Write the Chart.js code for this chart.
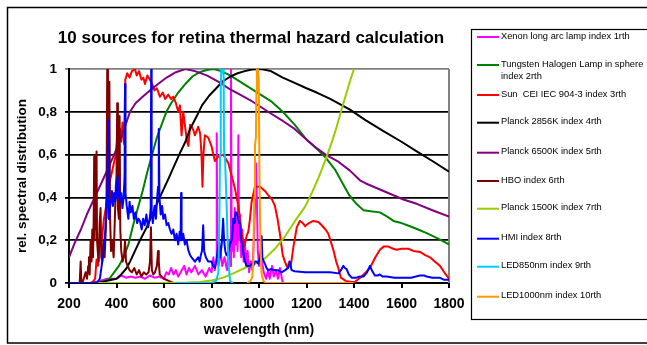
<!DOCTYPE html>
<html>
<head>
<meta charset="utf-8">
<title>10 sources for retina thermal hazard calculation</title>
<script src="https://cdn.jsdelivr.net/npm/chart.js@4.4.1/dist/chart.umd.min.js"></script>
<style>
  html, body { margin: 0; padding: 0; background: #fff; }
  #wrap { position: relative; width: 647px; height: 345px; }
</style>
</head>
<body>
<div id="wrap"><canvas id="chart" width="647" height="345"></canvas></div>
<script>
// ── Spectra (wavelength in nm, relative value) ───────────────────────────────
const xenonNm  = [300,330,360,400,420,440,460,480,500,520,540,560,580,600,610,620,630,640,650,660,670,685,695,705,715,730,745,760,775,790,800,808,814,819,822,825,830,838,845,855,865,872,876,879,882,885,890,894,898,902,906,910,913,916,920,925,930,935,940,946,952,958,965,972,978,983,987,991,995,1000,1010,1020,1030,1038,1045,1055,1062,1072,1080,1088,1095,1100];
const xenonVal = [0,0.01,0.02,0.02,0.035,0.025,0.03,0.025,0.03,0.02,0.035,0.025,0.03,0.02,0.05,0.04,0.07,0.04,0.06,0.03,0.05,0.08,0.04,0.07,0.05,0.08,0.04,0.06,0.03,0.07,0.05,0.12,0.06,0.1,0.7,0.12,0.08,0.15,0.08,0.12,0.06,0.14,0.2,0.08,1.0,0.15,0.3,0.12,0.35,0.18,0.3,0.15,0.69,0.2,0.32,0.12,0.25,0.1,0.2,0.08,0.15,0.05,0.1,0.06,0.2,0.35,0.56,0.4,0.15,0.08,0.12,0.05,0.02,0.06,0.02,0.08,0.03,0.06,0.02,0.07,0.03,0];

const tungstenNm  = [320,350,370,390,410,430,450,470,490,510,530,550,570,590,610,630,660,690,720,750,780,810,840,870,900,950,1000,1050,1100,1150,1200,1250,1285,1320,1350,1380,1410,1440,1470,1509,1540,1566,1600,1636,1670,1706,1750,1800];
const tungstenVal = [0,0.01,0.02,0.05,0.08,0.12,0.18,0.27,0.35,0.43,0.52,0.6,0.68,0.74,0.8,0.84,0.89,0.93,0.965,0.985,0.995,1.0,0.99,0.975,0.955,0.92,0.885,0.85,0.8,0.74,0.67,0.62,0.58,0.53,0.47,0.41,0.37,0.34,0.335,0.33,0.31,0.29,0.28,0.265,0.25,0.233,0.21,0.18];

const sunNm  = [290,300,310,316,322,330,338,347,355,365,377,387,397,405,410,415,420,425,432,437,445,455,465,478,485,495,505,513,520,530,541,550,560,570,583,595,605,618,630,639,650,660,667,674,681,690,697,703,710,717,725,730,744,752,758,762,766,772,786,800,814,828,849,860,871,885,899,913,927,938,948,955,962,969,983,1004,1025,1039,1055,1067,1078,1088,1100,1109,1120,1128,1134,1145,1159,1172,1185,1194,1210,1229,1250,1264,1280,1292,1313,1325,1334,1345,1365,1390,1404,1420,1432,1450,1467,1490,1509,1525,1545,1565,1580,1600,1629,1650,1678,1700,1720,1740,1762,1780,1800];
const sunVal = [0,0.005,0.02,0.11,0.08,0.23,0.2,0.3,0.35,0.45,0.5,0.55,0.6,0.7,0.68,0.72,0.66,0.75,0.65,0.95,0.98,0.96,0.99,1.0,0.97,0.99,0.95,0.96,0.93,0.97,0.95,0.93,0.9,0.91,0.87,0.89,0.86,0.88,0.86,0.87,0.84,0.8,0.83,0.69,0.8,0.72,0.66,0.64,0.74,0.73,0.71,0.69,0.73,0.7,0.6,0.45,0.6,0.69,0.68,0.64,0.57,0.59,0.6,0.58,0.56,0.5,0.44,0.36,0.23,0.17,0.22,0.24,0.3,0.38,0.45,0.45,0.43,0.41,0.39,0.36,0.3,0.23,0.13,0.1,0.07,0.1,0.08,0.17,0.26,0.29,0.28,0.265,0.28,0.29,0.285,0.27,0.25,0.23,0.155,0.1,0.07,0.025,0.01,0.005,0.005,0.02,0.03,0.05,0.07,0.12,0.155,0.17,0.17,0.16,0.155,0.16,0.16,0.15,0.145,0.13,0.12,0.1,0.08,0.05,0.02];

const planck2856Nm  = [320,340,360,380,400,420,443,457,478,499,527,550,570,597,620,640,667,690,710,738,760,790,820,850,880,910,940,970,1010,1050,1100,1150,1200,1243,1300,1350,1383,1450,1524,1600,1664,1730,1800];
const planck2856Val = [0,0.005,0.01,0.015,0.02,0.04,0.07,0.1,0.15,0.2,0.26,0.32,0.37,0.435,0.49,0.54,0.607,0.66,0.72,0.78,0.83,0.875,0.91,0.945,0.965,0.98,0.99,0.998,1.0,0.99,0.96,0.935,0.91,0.89,0.86,0.83,0.81,0.76,0.71,0.66,0.615,0.57,0.52];

const planck6500Nm  = [200,225,250,275,300,325,350,370,390,420,457,480,510,541,575,611,650,690,730,780,830,871,920,962,1011,1060,1102,1150,1200,1243,1280,1330,1383,1425,1450,1524,1608,1664,1730,1800];
const planck6500Val = [0.12,0.19,0.25,0.32,0.38,0.44,0.5,0.55,0.6,0.68,0.8,0.84,0.87,0.9,0.93,0.96,0.985,1.0,0.99,0.97,0.94,0.91,0.88,0.855,0.82,0.785,0.756,0.72,0.67,0.63,0.6,0.57,0.525,0.48,0.465,0.43,0.39,0.37,0.34,0.31];

const hboNm  = [245,249,252,256,262,270,276,281,284,287,291,295,298,301,304,306,308,311,313,316,318,321,325,329,333,336,340,345,350,355,358,361,364,367,370,373,377,382,388,393,397,400,403,406,410,413,416,420,426,432,436,440,447,455,465,475,485,495,505,515,525,535,541,545,549,555,562,570,575,578,582,590,600,620,640];
const hboVal = [0,0.1,0.01,0,0.02,0.05,0.02,0.08,0.12,0.04,0.2,0.1,0.25,0.12,0.3,0.59,0.2,0.45,0.25,0.615,0.2,0.15,0.1,0.28,0.35,0.12,0.1,0.2,0.12,0.25,0.4,1.0,0.45,0.3,0.94,0.3,0.15,0.2,0.12,0.3,0.45,0.5,0.84,0.35,0.3,0.78,0.25,0.15,0.1,0.13,0.2,0.1,0.08,0.06,0.05,0.07,0.04,0.06,0.03,0.05,0.04,0.05,0.1,0.26,0.06,0.04,0.05,0.08,0.15,0.1,0.04,0.03,0.02,0.01,0];

const planck1500Nm  = [300,500,600,700,750,800,850,892,940,983,1004,1025,1067,1109,1152,1194,1222,1250,1285,1310,1327,1350,1369,1385,1400];
const planck1500Val = [0,0,0,0.002,0.005,0.012,0.025,0.045,0.07,0.09,0.1,0.115,0.16,0.217,0.29,0.357,0.42,0.49,0.59,0.67,0.73,0.82,0.89,0.95,1.0];

const hmiNm  = [200,300,320,330,340,347,353,358,362,365,368,372,377,381,385,390,395,400,405,408,412,416,420,425,430,434,436,438,443,450,455,460,467,473,480,487,493,499,506,512,519,526,533,540,544,546,548,553,560,566,570,575,578,581,586,592,597,604,611,618,625,632,639,646,653,660,666,670,672,674,681,688,695,702,710,716,723,730,737,744,750,755,760,765,769,776,786,800,807,814,820,826,832,836,843,849,853,858,863,870,877,885,889,892,897,901,906,911,916,920,925,930,934,941,948,955,962,969,976,983,990,997,1004,1008,1011,1014,1020,1025,1032,1039,1050,1067,1080,1095,1110,1123,1130,1137,1150,1194,1230,1264,1300,1334,1345,1355,1362,1369,1378,1390,1410,1425,1440,1455,1467,1475,1488,1500,1509,1520,1538,1570,1600,1640,1660,1678,1695,1706,1730,1760,1780,1800];
const hmiVal = [0,0,0.005,0.02,0.1,0.16,0.25,0.36,0.45,0.76,0.3,0.35,0.39,0.43,0.36,0.42,0.38,0.44,0.5,0.4,0.45,0.38,0.42,0.35,0.4,0.5,0.93,0.42,0.36,0.3,0.38,0.33,0.36,0.3,0.33,0.28,0.3,0.29,0.25,0.3,0.27,0.32,0.26,0.3,0.35,1.0,0.33,0.28,0.36,0.3,0.38,0.45,0.72,0.4,0.32,0.36,0.3,0.32,0.27,0.28,0.25,0.23,0.25,0.2,0.23,0.18,0.24,0.2,0.42,0.2,0.23,0.18,0.2,0.155,0.13,0.12,0.11,0.1,0.11,0.12,0.1,0.13,0.15,0.27,0.15,0.12,0.1,0.1,0.08,0.07,0.1,0.15,0.2,0.12,0.18,0.3,0.2,0.15,0.13,0.14,0.18,0.2,0.25,0.3,0.28,0.33,0.33,0.3,0.28,0.28,0.2,0.18,0.14,0.1,0.08,0.08,0.08,0.09,0.08,0.1,0.1,0.09,0.12,0.16,0.22,0.12,0.1,0.09,0.07,0.06,0.065,0.06,0.06,0.05,0.06,0.07,0.1,0.06,0.055,0.05,0.05,0.05,0.05,0.045,0.06,0.08,0.07,0.065,0.04,0.025,0.025,0.03,0.03,0.05,0.08,0.06,0.035,0.035,0.04,0.03,0.03,0.025,0.025,0.025,0.03,0.035,0.035,0.03,0.025,0.025,0.015,0.015];

const led850Nm  = [650,700,750,800,820,829,833,836,839,841,846,851,853,857,864,871,878,890];
const led850Val = [0,0,0,0,0.01,0.05,0.3,0.6,0.9,1.0,0.98,1.0,0.62,0.58,0.35,0.1,0.01,0];

const led1000Nm  = [950,965,972,976,980,983,987,989,991,995,999,1002,1005,1010,1018,1030,1200,1400];
const led1000Val = [0,0.01,0.03,0.1,0.4,0.64,0.68,0.9,1.0,1.0,0.95,0.5,0.25,0.05,0.01,0,0,0];

const seriesNames = [
  'Xenon long arc lamp index 1rth',
  'Tungsten Halogen Lamp in sphere index 2rth',
  'Sun  CEI IEC 904-3 index 3rth',
  'Planck 2856K index 4rth',
  'Planck 6500K index 5rth',
  'HBO index 6rth',
  'Planck 1500K index 7rth',
  'HMI index 8rth',
  'LED850nm index 9rth',
  'LED1000nm index 10rth'
];
const seriesColors = ['#ff00ff','#008000','#ff0000','#000000','#800080','#800000','#99cc00','#0000ff','#00ccff','#ff9900'];
const seriesX = [xenonNm, tungstenNm, sunNm, planck2856Nm, planck6500Nm, hboNm, planck1500Nm, hmiNm, led850Nm, led1000Nm];
const seriesY = [xenonVal, tungstenVal, sunVal, planck2856Val, planck6500Val, hboVal, planck1500Val, hmiVal, led850Val, led1000Val];

const xTickLabels = ['200','400','600','800','1000','1200','1400','1600','1800'];
const yTickLabels = ['0','0,2','0,4','0,6','0,8','1'];

// ── Defaults ─────────────────────────────────────────────────────────────────
Chart.defaults.font.family = '"Liberation Sans", Arial, sans-serif';
Chart.defaults.color = '#000';

const FONT = '"Liberation Sans", Arial, sans-serif';

// ── Frame, title and legend, drawn on the canvas ────────────────────────────
const decorations = {
  id: 'decorations',
  beforeDatasetsDraw(chart) {
    const { ctx, chartArea: a } = chart;
    ctx.save();
    ctx.strokeStyle = '#808080';
    ctx.lineWidth = 2;
    ctx.beginPath();
    ctx.moveTo(a.right, a.top);
    ctx.lineTo(a.right, a.bottom);
    ctx.stroke();
    ctx.restore();
  },
  afterDraw(chart) {
    const ctx = chart.ctx;
    ctx.save();
    // outer frame
    ctx.strokeStyle = '#000';
    ctx.lineWidth = 1.5;
    ctx.strokeRect(7.5, 7.5, 660, 335.5);

    // title
    ctx.fillStyle = '#000';
    ctx.font = 'bold 17px ' + FONT;
    ctx.textAlign = 'center';
    ctx.textBaseline = 'alphabetic';
    ctx.fillText('10 sources for retina thermal hazard calculation', 251, 42.5);

    // legend box
    ctx.lineWidth = 1.2;
    ctx.strokeRect(471.5, 29.5, 200, 290);

    const rows = [36, 64, 94, 121.7, 151.7, 180, 207.7, 237.7, 265.7, 295.7];
    ctx.font = '9.3px ' + FONT;
    ctx.textAlign = 'left';
    ctx.textBaseline = 'middle';
    seriesNames.forEach((name, i) => {
      const y = rows[i];
      ctx.strokeStyle = seriesColors[i];
      ctx.lineWidth = 2;
      ctx.beginPath();
      ctx.moveTo(477, y + 1);
      ctx.lineTo(499, y + 1);
      ctx.stroke();
      ctx.fillStyle = '#000';
      if (i === 1) {
        ctx.fillText('Tungsten Halogen Lamp in sphere', 501, y);
        ctx.fillText('index 2rth', 501, y + 12);
      } else {
        ctx.fillText(name, 501, y);
      }
    });
    ctx.restore();
  }
};

// ── Chart ────────────────────────────────────────────────────────────────────
const datasets = seriesNames.map((name, i) => ({
  label: name,
  data: seriesX[i].map((x, j) => ({ x, y: seriesY[i][j] })),
  borderColor: seriesColors[i],
  backgroundColor: seriesColors[i],
  borderWidth: 2,
  borderJoinStyle: 'round',
  pointRadius: 0,
  showLine: true,
  tension: 0,
  order: seriesNames.length - i
}));

new Chart(document.getElementById('chart'), {
  type: 'scatter',
  data: { datasets },
  options: {
    responsive: false,
    animation: false,
    layout: { padding: { left: 10, right: 198, top: 69, bottom: 2 } },
    plugins: {
      legend: { display: false },
      title: { display: false },
      tooltip: { enabled: false }
    },
    scales: {
      x: {
        type: 'linear',
        min: 200, max: 1800,
        afterFit(scale) { scale.height = 60; },
        ticks: {
          stepSize: 200,
          padding: 8,
          maxRotation: 0,
          font: { size: 14, weight: 'bold' },
          callback: (v, i) => xTickLabels[i]
        },
        grid: { drawOnChartArea: false, drawTicks: true, tickLength: 5, color: '#000', lineWidth: 2 },
        border: { color: '#000', width: 2 },
        title: {
          display: true,
          text: 'wavelength (nm)',
          font: { size: 14, weight: 'bold' },
          padding: { top: 0, bottom: 4 }
        }
      },
      y: {
        min: 0, max: 1,
        afterFit(scale) { scale.width = 59; },
        ticks: {
          stepSize: 0.2,
          padding: 8,
          font: { size: 13.5, weight: 'bold' },
          callback: (v, i) => yTickLabels[i]
        },
        grid: {
          color: c => (c.tick && c.tick.value === 1 ? '#808080' : '#000'),
          lineWidth: 1.8,
          tickLength: 4
        },
        border: { color: '#000', width: 2 },
        title: {
          display: true,
          text: 'rel. spectral distribution',
          font: { size: 13.5, weight: 'bold' },
          padding: { top: 4, bottom: 0 }
        }
      }
    }
  },
  plugins: [decorations]
});
</script>
</body>
</html>
